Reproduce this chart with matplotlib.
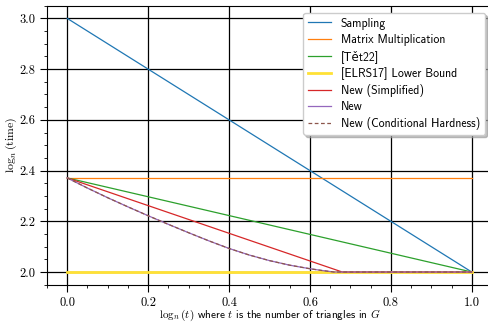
import matplotlib
matplotlib.use("Agg")
import matplotlib.pyplot as plt
import numpy as np

plt.rcParams['mathtext.fontset'] = 'cm'
plt.rcParams['font.family'] = ['cmr10', 'DejaVu Serif']
plt.rcParams['axes.formatter.use_mathtext'] = True

omega = 2.371

x_lin = [0.0, 1.0]
sampling = [3.0, 2.0]
matmul = [omega, omega]
tet22 = [omega, 2.0]
lower = [2.0, 2.0]

x_simpl = [0.0, 0.68, 1.0]
y_simpl = [omega, 2.0, 2.0]

x_new = [0.0, 0.05, 0.1, 0.15, 0.2, 0.25, 0.3, 0.35, 0.4, 0.45, 0.5, 0.55, 0.6, 0.63, 0.66, 1.0]
y_new = [omega, 2.331, 2.293, 2.257, 2.222, 2.188, 2.155, 2.123, 2.093, 2.067, 2.045, 2.027, 2.013, 2.006, 2.0, 2.0]

xticks = [0.0, 0.2, 0.4, 0.6, 0.8, 1.0]
yticks = [2.0, 2.2, 2.4, 2.6, 2.8, 3.0]

fig = plt.figure(figsize=(4.89, 3.22), dpi=100)
ax = fig.add_axes([0.0961, 0.1158, 0.91, 0.8665])

ax.plot(x_lin, sampling, color='#1f77b4', lw=0.9, label='Sampling')
ax.plot(x_lin, matmul, color='#ff7f0e', lw=0.9, label='Matrix Multiplication')
ax.plot(x_lin, tet22, color='#2ca02c', lw=0.9, label='[Tět22]')
ax.plot(x_lin, lower, color='#ffe135', lw=2.0, label='[ELRS17] Lower Bound')
ax.plot(x_simpl, y_simpl, color='#d62728', lw=0.9, label='New (Simplified)')
ax.plot(x_new, y_new, color='#9467bd', lw=0.9, label='New')
ax.plot(x_new, y_new, color='#8c564b', lw=0.9, ls=(0, (3, 2)), label='New (Conditional Hardness)')

ax.set_xlim(-0.05, 1.05)
ax.set_ylim(1.95, 3.05)
ax.set_xticks(xticks)
ax.set_yticks(yticks)
ax.set_xticklabels([f"{v:.1f}" for v in xticks])
ax.set_yticklabels([f"{v:.1f}" for v in yticks])
ax.set_xticks(np.arange(-0.05, 1.051, 0.05), minor=True)
ax.set_yticks(np.arange(1.95, 3.051, 0.05), minor=True)
ax.tick_params(which='major', direction='out', length=5, width=0.8, labelsize=9)
ax.tick_params(which='minor', direction='out', length=2.5, width=0.6)
ax.grid(True, which='major', color='black', lw=0.9)

ax.set_xlabel(r'$\log_n(t)$ where $t$ is the number of triangles in $G$',
              family=['cmss10', 'DejaVu Sans'], fontsize=8)
ax.xaxis.set_label_coords(0.5, -0.082)
ax.set_ylabel(r'$\log_n(\mathrm{time})$', fontsize=8.5)
ax.yaxis.set_label_coords(-0.062, 0.5)

leg = ax.legend(loc='upper right', prop={'family': ['cmss10', 'DejaVu Sans'], 'size': 8.5},
                shadow={'color': '0.6', 'alpha': 0.6}, fancybox=True, framealpha=1.0,
                borderaxespad=0.6, handlelength=2.0, labelspacing=0.35)
leg.get_frame().set_edgecolor('#cccccc')

fig.savefig('out.png', dpi=100)
